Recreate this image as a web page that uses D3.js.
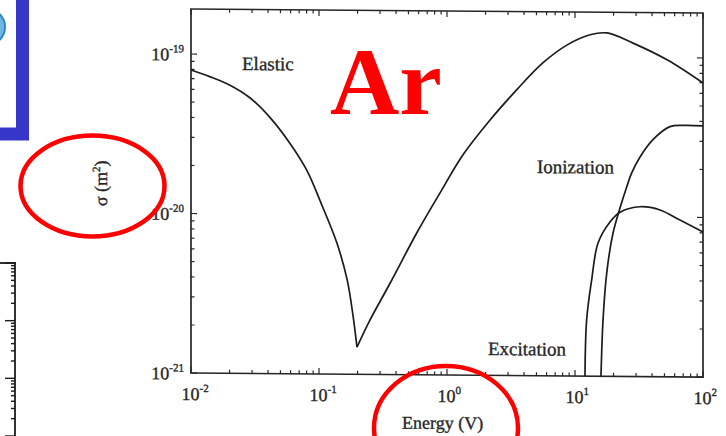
<!DOCTYPE html>
<html>
<head>
<meta charset="utf-8">
<script src="https://cdn.jsdelivr.net/npm/d3@7"></script>
<style>
  html, body { margin: 0; padding: 0; background: #fff; }
  svg { display: block; }
</style>
</head>
<body>
<svg id="chart" width="726" height="436"></svg>
<script>
// Electron–argon collision cross sections σ (m²) against energy (eV)
const elasticEnergy = [0.01, 0.014, 0.02, 0.029, 0.041, 0.059, 0.08, 0.107, 0.138, 0.166, 0.185, 0.198,
                       0.25, 0.36, 0.58, 0.88, 1.33, 2.17, 3.5, 5.6, 8.7, 13.1, 17.8, 28.4, 52.4, 100];
const elasticSigma  = [7.94e-20, 7.23e-20, 6.42e-20, 5.33e-20, 4.07e-20, 2.80e-20, 1.90e-20, 1.11e-20,
                       6.64e-21, 3.90e-21, 2.29e-21, 1.48e-21, 2.19e-21, 3.75e-21, 7.74e-21, 1.38e-20,
                       2.40e-20, 3.99e-20, 6.18e-20, 9.14e-20, 1.19e-19, 1.38e-19, 1.42e-19, 1.23e-19,
                       9.70e-20, 6.97e-20];

const excitationEnergy = [11.97, 12.33, 13.49, 15.14, 18.75, 22.49, 32.21, 46.13, 66.07, 100];
const excitationSigma  = [1.0e-21, 2.25e-21, 4.0e-21, 6.84e-21, 9.27e-21, 1.07e-20, 1.16e-20, 1.11e-20,
                          9.61e-21, 8.11e-21];

const ionizationEnergy = [15.96, 16.56, 17.70, 19.82, 22.49, 25.35, 27.73, 32.21, 40.64, 55.21, 72.28, 100];
const ionizationSigma  = [1.0e-21, 2.25e-21, 4.45e-21, 7.91e-21, 1.14e-20, 1.54e-20, 1.89e-20, 2.38e-20,
                          3.06e-20, 3.70e-20, 3.77e-20, 3.75e-20];

// Decade exponents used for the tick labels
const energyDecades = [-2, -1, 0, 1, 2];
const sigmaDecades  = [-21, -20, -19];

const svg = d3.select("#chart");
const W = 726, H = 436;
const serif = "'Liberation Serif', 'Times New Roman', serif";
const ink = "#262626";

svg.append("rect").attr("width", W).attr("height", H).attr("fill", "#fff");

const plot = { left: 191, right: 703, top: 9, bottom: 373 };
const x = d3.scaleLog().domain([0.01, 100]).range([plot.left, plot.right]);
const y = d3.scaleLog().domain([1e-21, Math.pow(10, -18.718)]).range([plot.bottom, plot.top]);

// the printed figure sits on a slight slant
const fig = svg.append("g")
  .attr("transform", `translate(${plot.left},0) skewY(0.45) translate(${-plot.left},0)`);

// frame
fig.append("rect")
  .attr("x", plot.left).attr("y", plot.top)
  .attr("width", plot.right - plot.left).attr("height", plot.bottom - plot.top)
  .attr("fill", "none").attr("stroke", ink).attr("stroke-width", 1.7);

const isDecade = v => Math.abs(Math.log10(v) - Math.round(Math.log10(v))) < 1e-6;

// inward ticks on all four sides
const ticks = fig.append("g").attr("stroke", ink).attr("stroke-width", 1.2);
x.ticks().forEach(v => {
  const len = isDecade(v) ? 6 : 3.5;
  ticks.append("line").attr("x1", x(v)).attr("x2", x(v))
    .attr("y1", plot.bottom).attr("y2", plot.bottom - len);
  ticks.append("line").attr("x1", x(v)).attr("x2", x(v))
    .attr("y1", plot.top).attr("y2", plot.top + len);
});
y.ticks().forEach(v => {
  const len = isDecade(v) ? 6 : 3.5;
  ticks.append("line").attr("y1", y(v)).attr("y2", y(v))
    .attr("x1", plot.left).attr("x2", plot.left + len);
  ticks.append("line").attr("y1", y(v)).attr("y2", y(v))
    .attr("x1", plot.right).attr("x2", plot.right - len);
});

// printed text is a little heavy
const styleText = t => t
  .attr("font-family", serif).attr("fill", ink)
  .attr("stroke", ink).attr("stroke-width", 0.35);

// tick labels
energyDecades.forEach(e => {
  const t = styleText(fig.append("text")
    .attr("x", x(Math.pow(10, e)) - 9.5).attr("y", 400)
    .attr("font-size", 18));
  t.append("tspan").text("10");
  t.append("tspan").attr("dy", -8).attr("font-size", 11).text(String(e));
});
sigmaDecades.forEach(e => {
  const t = styleText(fig.append("text")
    .attr("x", 184).attr("y", y(Math.pow(10, e)) + 6.5)
    .attr("text-anchor", "end")
    .attr("font-size", 18));
  t.append("tspan").text("10");
  t.append("tspan").attr("dy", -8).attr("font-size", 11).text(String(e));
});

// axis titles
styleText(fig.append("text")
  .attr("x", 402).attr("y", 427)
  .attr("font-size", 18))
  .text("Energy (V)");

const yt = styleText(fig.append("text")
  .attr("transform", "translate(107,184) rotate(-90)")
  .attr("text-anchor", "middle")
  .attr("font-size", 18));
yt.append("tspan").text("σ (m");
yt.append("tspan").attr("dy", -7).attr("font-size", 11).text("2");
yt.append("tspan").attr("dy", 7).text(")");

// curves
const line = d3.line()
  .x(d => x(d[0])).y(d => y(d[1]))
  .curve(d3.curveCatmullRom.alpha(0.5));

const curves = fig.append("g")
  .attr("fill", "none").attr("stroke", "#1c1c1c").attr("stroke-width", 1.7)
  .attr("stroke-linejoin", "round");

const elastic = elasticEnergy.map((e, i) => [e, elasticSigma[i]]);
const iMin = d3.minIndex(elasticSigma);   // Ramsauer minimum: keep it as a sharp cusp
curves.append("path").attr("d", line(elastic.slice(0, iMin + 1)));
curves.append("path").attr("d", line(elastic.slice(iMin)));
curves.append("path").attr("d", line(excitationEnergy.map((e, i) => [e, excitationSigma[i]])));
curves.append("path").attr("d", line(ionizationEnergy.map((e, i) => [e, ionizationSigma[i]])));

// curve names
const names = [["Elastic", 242, 69.6], ["Ionization", 537, 170.3], ["Excitation", 488, 352.7]];
names.forEach(([txt, tx, ty]) => {
  styleText(fig.append("text").attr("x", tx).attr("y", ty)
    .attr("font-size", 19))
    .text(txt);
});

// part of a neighbouring figure at the lower left
const side = d3.scaleLog().domain([0.1, 100]).range([436, 263]);
const sideG = svg.append("g").attr("stroke", "#1c1c1c").attr("stroke-width", 1.8);
sideG.append("line").attr("x1", 15).attr("x2", 15).attr("y1", 262).attr("y2", 436);
sideG.append("line").attr("x1", 0).attr("x2", 15.9).attr("y1", 263).attr("y2", 263);
side.ticks().forEach(v => {
  const len = isDecade(v) ? 10 : 4;
  sideG.append("line").attr("x1", 15).attr("x2", 15 - len)
    .attr("y1", side(v)).attr("y2", side(v)).attr("stroke-width", 1.4);
});

// highlight box in the top-left corner
svg.append("circle").attr("cx", -13).attr("cy", 27).attr("r", 18)
  .attr("fill", "#6fb7e2").attr("stroke", "#2f86c6").attr("stroke-width", 2);
svg.append("rect")
  .attr("x", -20).attr("y", -20).attr("width", 42.5).attr("height", 154)
  .attr("fill", "none").attr("stroke", "#3636c9").attr("stroke-width", 13);

// red annotations
svg.append("text")
  .attr("x", 330).attr("y", 114)
  .attr("font-family", serif).attr("font-weight", "bold").attr("font-size", 96)
  .attr("fill", "#ff0000")
  .text("Ar");

const marks = svg.append("g").attr("fill", "none").attr("stroke", "#ff0000").attr("stroke-width", 4.5);
marks.append("ellipse").attr("cx", 92.5).attr("cy", 186).attr("rx", 72).attr("ry", 50.5);
marks.append("ellipse").attr("cx", 446).attr("cy", 428).attr("rx", 72).attr("ry", 62);
</script>
</body>
</html>
